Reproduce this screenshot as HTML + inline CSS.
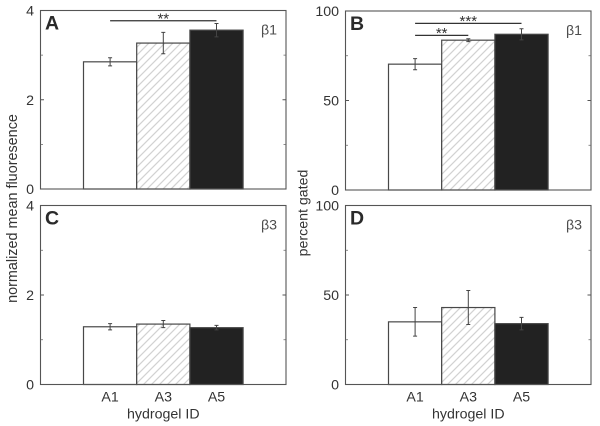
<!DOCTYPE html>
<html>
<head>
<meta charset="utf-8">
<title>Hydrogel chart</title>
<style>
html,body{margin:0;padding:0;background:#fff;width:600px;height:426px;overflow:hidden}
svg{display:block}
text{font-family:"Liberation Sans",sans-serif;fill:#333}
</style>
</head>
<body>
<svg id="chart" xmlns="http://www.w3.org/2000/svg" width="600" height="426" viewBox="0 0 600 426">
<defs>
<pattern id="hatch" patternUnits="userSpaceOnUse" width="8" height="8">
<rect width="8" height="8" fill="#fff"/>
<path d="M-2 2L2 -2M0 8L8 0M6 10L10 6" stroke="#d2d2d2" stroke-width="1.2" fill="none"/>
</pattern>
</defs>
<text transform="translate(17,208.5) rotate(-90)" text-anchor="middle" font-size="14.4">normalized mean fluoresence</text>
<text transform="translate(307.5,213) rotate(-90)" text-anchor="middle" font-size="14.2">percent gated</text>
</svg>
<script>
var categories = ['A1', 'A3', 'A5'];
var fluorTicks = [0, 2, 4];
var percentTicks = [0, 50, 100];
var fluorMinorTicks = [1, 3];
var percentMinorTicks = [25, 75];
var valuesA = [2.85, 3.27, 3.56];
var errorsA = [0.09, 0.24, 0.15];
var valuesB = [70.3, 83.7, 87];
var errorsB = [3.1, 0.8, 3.1];
var valuesC = [1.29, 1.35, 1.27];
var errorsC = [0.07, 0.08, 0.05];
var valuesD = [35, 43, 34];
var errorsD = [8, 9.5, 3.5];
var sigA = [{from: 0, to: 2, level: 3.77, stars: '**'}];
var sigB = [{from: 0, to: 1, level: 86.4, stars: '**'}, {from: 0, to: 2, level: 93.1, stars: '***'}];

var svg = document.getElementById('chart');
var NS = 'http://www.w3.org/2000/svg';

function make(tag, attrs, parent) {
  var el = document.createElementNS(NS, tag);
  for (var k in attrs) el.setAttribute(k, attrs[k]);
  (parent || svg).appendChild(el);
  return el;
}

function drawPanel(p) {
  var g = make('g', {});
  
  
  var plotH = p.bottom - p.top;
  function yScale(v) { return p.bottom - v / p.max * plotH; }
  var barW = 53.2;
  var barStart = p.left + 43;
  function xBand(i) { return barStart + i * barW; }
  function xCenter(i) { return xBand(i) + barW / 2; }
  var fills = ['#fff', 'url(#hatch)', '#222'];

  p.values.forEach(function (v, i) {
    var bar = make('rect', {x: xBand(i), y: yScale(v), width: barW, height: p.bottom - yScale(v), fill: fills[i], stroke: '#484848', 'stroke-width': 1.2}, g);
    
    
  });

  p.values.forEach(function (v, i) {
    var cx = xCenter(i);
    var hi = yScale(v + p.errors[i]);
    var lo = yScale(v - p.errors[i]);
    var err = make('path', {d: 'M' + cx + ' ' + hi + 'V' + lo + 'M' + (cx - 2) + ' ' + hi + 'H' + (cx + 2) + 'M' + (cx - 2) + ' ' + lo + 'H' + (cx + 2), stroke: '#444', 'stroke-width': 1, fill: 'none'}, g);
    
    
  });

  var frame = make('rect', {x: p.left, y: p.top, width: p.width, height: plotH, fill: 'none', stroke: '#555', 'stroke-width': 1.1}, g);
  
  

  p.ticks.forEach(function (t) {
    var y = yScale(t);
    var tick = make('path', {d: 'M' + p.left + ' ' + y + 'h3.5M' + (p.left + p.width) + ' ' + y + 'h-3.5', stroke: '#555', 'stroke-width': 0.9}, g);
    
    
    var label = make('text', {x: p.left - 6.5, y: y + 5, 'text-anchor': 'end', 'font-size': 14.2}, g);
    
    
    label.textContent = t;
  });
  p.minor.forEach(function (t) {
    var y = yScale(t);
    var tick = make('path', {d: 'M' + p.left + ' ' + y + 'h2.5M' + (p.left + p.width) + ' ' + y + 'h-2.5', stroke: '#666', 'stroke-width': 0.8}, g);
    
    
  });

  var letter = make('text', {x: p.left + 4.5, y: p.top + 19, 'font-size': 19.5, 'font-weight': 'bold', style: 'fill:#2a2a2a'}, g);
  
  
  letter.textContent = p.letter;

  var beta = make('text', {x: p.left + 220.5, y: p.top + 24, 'font-size': 14.2, style: 'fill:#4d4d4d'}, g);
  
  
  beta.textContent = p.beta;

  p.sig.forEach(function (s) {
    var y = yScale(s.level);
    var line = make('line', {x1: xCenter(s.from), x2: xCenter(s.to), y1: y, y2: y, stroke: '#333', 'stroke-width': 1.3}, g);
    
    
    var stars = make('text', {x: (xCenter(s.from) + xCenter(s.to)) / 2, y: y + 2.7, 'text-anchor': 'middle', 'font-size': 15}, g);
    
    
    stars.textContent = s.stars;
  });

  if (p.showX) {
    categories.forEach(function (c, i) {
      var t = make('text', {x: xCenter(i), y: p.bottom + 17, 'text-anchor': 'middle', 'font-size': 14.2}, g);
      
      
      t.textContent = c;
    });
    var xt = make('text', {x: xCenter(1), y: p.bottom + 34, 'text-anchor': 'middle', 'font-size': 14.2}, g);
    
    
    xt.textContent = 'hydrogel ID';
  }
}

drawPanel({letter: 'A', beta: '\u03B21', left: 40.5, top: 10.5, bottom: 189, width: 245.5, max: 4, values: valuesA, errors: errorsA, ticks: fluorTicks, minor: fluorMinorTicks, sig: sigA, showX: false});
drawPanel({letter: 'B', beta: '\u03B21', left: 345.5, top: 11, bottom: 190, width: 245.5, max: 100, values: valuesB, errors: errorsB, ticks: percentTicks, minor: percentMinorTicks, sig: sigB, showX: false});
drawPanel({letter: 'C', beta: '\u03B23', left: 40.5, top: 205.5, bottom: 384.5, width: 245.5, max: 4, values: valuesC, errors: errorsC, ticks: fluorTicks, minor: fluorMinorTicks, sig: [], showX: true});
drawPanel({letter: 'D', beta: '\u03B23', left: 345.5, top: 205.5, bottom: 384.5, width: 245.5, max: 100, values: valuesD, errors: errorsD, ticks: percentTicks, minor: percentMinorTicks, sig: [], showX: true});
</script>
</body>
</html>
